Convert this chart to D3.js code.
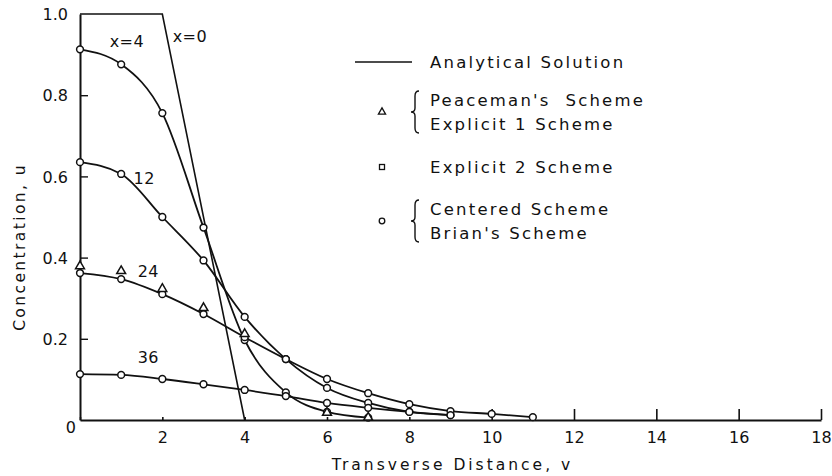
<!DOCTYPE html>
<html>
<head>
<meta charset="utf-8">
<script src="https://cdn.jsdelivr.net/npm/d3@7"></script>
<style>
  html, body { margin: 0; padding: 0; background: #fff; }
  svg text { font-family: "DejaVu Sans", sans-serif; fill: #111; }
</style>
</head>
<body>
<svg id="chart" width="832" height="476"></svg>
<script>
// Transverse distance (grid nodes) and concentrations for each downstream distance x
const distances = [0, 1, 2, 3, 4, 5, 6, 7, 8, 9, 10, 11];
const conc_x4  = [0.913, 0.876, 0.756, 0.474, 0.197, 0.068, 0.020, 0.006];
const conc_x12 = [0.635, 0.606, 0.500, 0.393, 0.254, 0.150, 0.079, 0.042, 0.020, 0.012];
const conc_x24 = [0.362, 0.347, 0.310, 0.261, 0.204, 0.150, 0.101, 0.066, 0.039, 0.022, 0.015, 0.007];
const conc_x36 = [0.113, 0.111, 0.101, 0.088, 0.074, 0.059, 0.042, 0.030, 0.020, 0.012];
// Peaceman's / Explicit 1 results (triangles)
const tri_x24 = [0.379, 0.367, 0.323, 0.276, 0.212];
const tri_x4_dist = [6, 7];
const tri_x4 = [0.018, 0.006];
// Initial (x = 0) analytical profile
const initDist = [0, 2, 4];
const initConc = [1.0, 1.0, 0.0];

const xTicks = [0, 2, 4, 6, 8, 10, 12, 14, 16, 18];
const yTicks = [0, 0.2, 0.4, 0.6, 0.8, 1.0];
const yTickLabels = ["0", "0.2", "0.4", "0.6", "0.8", "1.0"];

const curveLabels = [
  { text: "x=4", v: 0.72, u: 0.918 },
  { text: "x=0", v: 2.25, u: 0.93 },
  { text: "12",  v: 1.3,  u: 0.582 },
  { text: "24",  v: 1.4,  u: 0.352 },
  { text: "36",  v: 1.4,  u: 0.14 }
];

const legendItems = [
  { mark: "line",     lines: ["Analytical Solution"] },
  { mark: "triangle", lines: ["Peaceman's  Scheme", "Explicit 1 Scheme"] },
  { mark: "square",   lines: ["Explicit 2 Scheme"] },
  { mark: "circle",   lines: ["Centered Scheme", "Brian's Scheme"] }
];

const svg = d3.select("#chart");
const x = d3.scaleLinear().domain([0, 18]).range([80, 821]);
const y = d3.scaleLinear().domain([0, 1]).range([420, 14]);

const ink = "#111";

// X axis
const xAxis = d3.axisBottom(x).tickValues(xTicks).tickSizeInner(-11).tickSizeOuter(0)
  .tickFormat(d => d === 0 ? "" : d3.format("d")(d)).tickPadding(18);
const gx = svg.append("g").attr("transform", `translate(0,${y(0)})`).call(xAxis);
gx.select(".domain").attr("stroke", ink).attr("stroke-width", 2);
gx.selectAll(".tick line").attr("stroke", ink).attr("stroke-width", 1.6)
  .attr("y2", d => d >= 10 ? -11 : -3);
gx.selectAll(".tick text").attr("font-size", 16).attr("fill", ink).attr("dy", "0.3em");

// Y axis
const yAxis = d3.axisLeft(y).tickValues(yTicks).tickSizeInner(-8).tickSizeOuter(0)
  .tickFormat((d, i) => yTickLabels[i]).tickPadding(12);
const gy = svg.append("g").attr("transform", `translate(${x(0)},0)`).call(yAxis);
gy.select(".domain").attr("stroke", ink).attr("stroke-width", 2);
gy.selectAll(".tick line").attr("stroke", ink).attr("stroke-width", 1.4)
  .attr("x2", d => (d > 0 && d < 1) ? 8 : 0);
gy.selectAll(".tick text").attr("font-size", 16).attr("fill", ink)
  .attr("x", d => d === 0 ? -4 : -12)
  .attr("dy", d => d === 0 ? "0.75em" : "0.35em");

// Axis titles
svg.append("text").attr("x", (x(0) + x(18)) / 2 + 2).attr("y", 470)
  .attr("text-anchor", "middle").attr("font-size", 15.5).attr("letter-spacing", 3)
  .text("Transverse Distance, v");
svg.append("text").attr("transform", `translate(25,${(y(0) + y(1)) / 2 + 30}) rotate(-90)`)
  .attr("text-anchor", "middle").attr("font-size", 15.5).attr("letter-spacing", 2.4)
  .text("Concentration, u");

// Initial profile
const straight = d3.line().x((d, i) => x(initDist[i])).y(d => y(d));
svg.append("path").datum(initConc).attr("d", straight)
  .attr("fill", "none").attr("stroke", ink).attr("stroke-width", 1.6);

// Analytical curves
const smooth = d3.line().x((d, i) => x(distances[i])).y(d => y(d)).curve(d3.curveMonotoneX);
[conc_x4, conc_x12, conc_x24, conc_x36].forEach(series => {
  svg.append("path").datum(series).attr("d", smooth)
    .attr("fill", "none").attr("stroke", ink).attr("stroke-width", 1.8);
});

// Circle markers (Centered / Brian's)
[conc_x4, conc_x12, conc_x24, conc_x36].forEach(series => {
  svg.append("g").selectAll("circle").data(series).join("circle")
    .attr("cx", (d, i) => x(distances[i])).attr("cy", d => y(d)).attr("r", 3.4)
    .attr("fill", "#fff").attr("stroke", ink).attr("stroke-width", 1.5);
});

// Triangle markers
const tri = d3.symbol().type(d3.symbolTriangle).size(34);
function triangles(ds, vs) {
  svg.append("g").selectAll("path").data(vs).join("path")
    .attr("d", tri).attr("transform", (d, i) => `translate(${x(ds[i])},${y(d)})`)
    .attr("fill", "#fff").attr("stroke", ink).attr("stroke-width", 1.5);
}
triangles(distances, tri_x24);
triangles(tri_x4_dist, tri_x4);

// Curve labels
svg.append("g").selectAll("text").data(curveLabels).join("text")
  .attr("x", d => x(d.v)).attr("y", d => y(d.u))
  .attr("font-size", 16).attr("letter-spacing", 0.5).text(d => d.text);

// Legend
const lg = svg.append("g");
const legendX = 430, markX = 382;
const rowY = [62, 112, 167, 221];
legendItems.forEach((item, k) => {
  const cy = rowY[k];
  if (item.mark === "line") {
    lg.append("line").attr("x1", 355).attr("x2", 412).attr("y1", cy).attr("y2", cy)
      .attr("stroke", ink).attr("stroke-width", 1.6);
  } else if (item.mark === "triangle") {
    lg.append("path").attr("d", d3.symbol().type(d3.symbolTriangle).size(22)())
      .attr("transform", `translate(${markX},${cy})`)
      .attr("fill", "#fff").attr("stroke", ink).attr("stroke-width", 1.3);
  } else if (item.mark === "square") {
    lg.append("rect").attr("x", markX - 2.5).attr("y", cy - 2.5).attr("width", 5).attr("height", 5)
      .attr("fill", "#fff").attr("stroke", ink).attr("stroke-width", 1.3);
  } else {
    lg.append("circle").attr("cx", markX).attr("cy", cy).attr("r", 2.8)
      .attr("fill", "#fff").attr("stroke", ink).attr("stroke-width", 1.3);
  }
  const n = item.lines.length;
  const gap = 24;
  item.lines.forEach((t, j) => {
    lg.append("text").attr("x", legendX).attr("y", cy + (j - (n - 1) / 2) * gap)
      .attr("dy", "0.35em").attr("font-size", 16.5).attr("letter-spacing", 2.2)
      .attr("xml:space", "preserve").text(t);
  });
  if (n > 1) {
    // curly brace grouping the two scheme names
    const top = cy - gap / 2 - 9, bot = cy + gap / 2 + 9, bx = 416;
    const p = d3.path();
    p.moveTo(bx + 3, top);
    p.quadraticCurveTo(bx - 1, top, bx - 1, top + 5);
    p.lineTo(bx - 1, cy - 4);
    p.quadraticCurveTo(bx - 1, cy, bx - 5, cy);
    p.quadraticCurveTo(bx - 1, cy, bx - 1, cy + 4);
    p.lineTo(bx - 1, bot - 5);
    p.quadraticCurveTo(bx - 1, bot, bx + 3, bot);
    lg.append("path").attr("d", p.toString()).attr("fill", "none")
      .attr("stroke", ink).attr("stroke-width", 1.4);
  }
});
</script>
</body>
</html>
